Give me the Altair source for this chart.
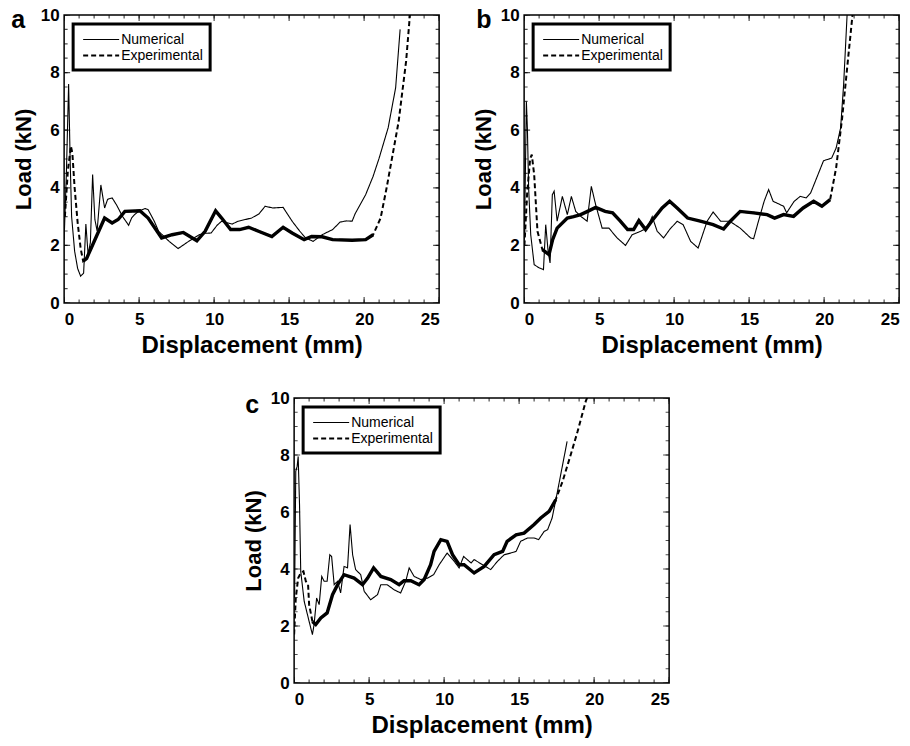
import altair as alt
import pandas as pd

FONT = "Liberation Sans"

# ---------------- data ----------------
# panel a
a_num_x = [0.0, 0.15, 0.3, 0.4, 0.5, 0.7, 0.9, 1.1, 1.3, 1.45, 1.6, 1.75, 1.9, 2.05, 2.2, 2.45, 2.7, 2.9, 3.2, 3.5, 3.9, 4.3, 4.5, 4.7, 5.0, 5.4, 5.6, 6.0, 6.3, 7.0, 7.6, 8.3, 9.0, 9.4, 9.8, 10.2, 10.5, 11.2, 11.6, 12.5, 13.0, 13.4, 13.9, 14.6, 15.2, 15.7, 16.1, 16.6, 17.2, 17.9, 18.4, 18.8, 19.2, 19.4, 20.1, 20.6, 21.0, 21.6, 22.1, 22.4]
a_num_y = [2.2, 4.5, 7.6, 5.0, 3.0, 1.8, 1.2, 0.93, 1.04, 2.74, 1.68, 2.1, 4.46, 2.9, 2.5, 4.1, 3.3, 3.6, 3.65, 3.4, 3.0, 2.7, 2.95, 3.07, 3.2, 3.28, 3.24, 2.85, 2.49, 2.14, 1.89, 2.14, 2.37, 2.42, 2.43, 2.7, 2.84, 2.74, 2.84, 2.95, 3.1, 3.36, 3.3, 3.32, 2.84, 2.5, 2.26, 2.14, 2.37, 2.55, 2.81, 2.85, 2.84, 3.1, 3.76, 4.4, 5.03, 6.08, 7.47, 9.5]
a_exp_x = [0.05, 0.25, 0.45, 0.55, 0.7, 0.9, 1.1, 1.27, 1.5, 1.8, 2.2, 2.7, 3.2, 3.6, 4.05, 5.05, 5.6, 6.5, 7.2, 7.95, 8.85, 9.4, 10.1, 10.5, 11.1, 11.7, 12.3, 12.96, 13.85, 14.6, 15.2, 16.0, 16.5, 17.2, 17.9, 19.2, 20.1, 20.6, 21.1, 21.5, 21.9, 22.3, 22.8, 23.1]
a_exp_y = [3.0, 4.6, 5.45, 5.2, 4.0, 2.8, 1.9, 1.45, 1.55, 1.9, 2.37, 2.95, 2.78, 2.9, 3.18, 3.2, 2.95, 2.26, 2.37, 2.45, 2.16, 2.49, 3.2, 2.95, 2.55, 2.55, 2.63, 2.49, 2.31, 2.63, 2.43, 2.2, 2.31, 2.3, 2.2, 2.18, 2.2, 2.37, 2.95, 4.0, 5.15, 6.3, 8.4, 10.3]

# panel b
b_num_x = [0.02, 0.15, 0.22, 0.3, 0.44, 0.67, 1.0, 1.29, 1.44, 1.6, 1.73, 1.88, 2.0, 2.2, 2.55, 2.88, 3.15, 3.44, 3.8, 4.2, 4.48, 4.77, 5.2, 5.65, 6.2, 6.76, 7.2, 7.76, 8.2, 8.54, 8.87, 9.3, 9.7, 10.2, 10.6, 11.1, 11.6, 12.2, 12.6, 13.1, 13.7, 14.4, 15.1, 15.3, 15.6, 16.0, 16.3, 16.6, 17.3, 17.5, 18.0, 18.4, 18.8, 19.1, 19.5, 19.96, 20.5, 20.8, 21.1, 21.3, 21.55]
b_num_y = [2.2, 7.0, 6.0, 4.0, 2.37, 1.33, 1.22, 1.16, 2.72, 1.79, 1.39, 3.76, 3.88, 2.84, 3.7, 3.07, 3.7, 3.18, 3.0, 2.84, 4.05, 3.41, 2.6, 2.6, 2.26, 2.0, 2.37, 2.49, 2.6, 3.0, 2.49, 2.26, 2.55, 2.84, 2.72, 2.14, 1.91, 2.84, 3.16, 2.84, 2.84, 2.6, 2.26, 2.23, 2.8, 3.53, 3.94, 3.53, 3.36, 3.13, 3.53, 3.7, 3.65, 3.82, 4.34, 4.94, 5.03, 5.38, 6.08, 7.58, 10.2]
b_exp_x = [0.02, 0.2, 0.4, 0.51, 0.67, 0.89, 1.22, 1.66, 1.9, 2.2, 2.88, 3.3, 3.77, 4.3, 4.77, 5.4, 5.9, 6.4, 6.9, 7.3, 7.65, 8.1, 8.5, 9.2, 9.7, 10.2, 10.9, 11.75, 12.6, 13.3, 13.75, 14.4, 15.3, 16.2, 16.7, 17.3, 17.96, 18.6, 19.3, 19.85, 20.4, 20.8, 21.2, 21.6, 21.95]
b_exp_y = [2.0, 3.8, 5.0, 5.15, 4.46, 2.49, 1.85, 1.68, 2.2, 2.6, 2.95, 3.0, 3.07, 3.2, 3.32, 3.18, 3.13, 2.85, 2.55, 2.55, 2.86, 2.55, 2.84, 3.3, 3.53, 3.3, 2.95, 2.84, 2.72, 2.57, 2.84, 3.18, 3.13, 3.07, 2.95, 3.07, 3.01, 3.3, 3.53, 3.36, 3.59, 4.69, 6.42, 8.5, 10.3]

# panel c
c_num_x = [0.03, 0.11, 0.2, 0.27, 0.36, 0.44, 0.67, 1.0, 1.22, 1.33, 1.5, 1.67, 1.84, 2.0, 2.2, 2.38, 2.5, 2.67, 2.9, 3.1, 3.33, 3.56, 3.73, 3.9, 4.1, 4.44, 4.67, 5.1, 5.56, 5.78, 6.2, 6.67, 7.1, 7.44, 7.67, 8.0, 8.44, 8.9, 9.3, 9.67, 10.2, 10.67, 11.0, 11.3, 11.8, 12.0, 12.56, 13.1, 13.56, 14.0, 14.44, 14.8, 15.1, 15.56, 16.0, 16.3, 16.67, 16.9, 17.2, 17.56, 17.9, 18.2]
c_num_y = [3.0, 7.43, 7.6, 7.95, 6.26, 3.92, 2.87, 2.16, 1.7, 2.05, 2.98, 2.75, 3.74, 3.57, 3.57, 4.5, 4.44, 3.45, 3.57, 3.16, 4.09, 4.04, 5.56, 4.5, 3.98, 3.8, 3.22, 2.92, 3.1, 3.45, 3.45, 3.27, 3.16, 3.57, 4.04, 3.74, 3.63, 3.68, 3.8, 4.15, 4.56, 4.27, 4.04, 4.44, 4.21, 4.33, 4.15, 3.98, 4.27, 4.5, 4.56, 4.62, 4.97, 5.09, 5.09, 5.03, 5.32, 5.38, 5.79, 6.73, 7.66, 8.48]
c_exp_x = [0.0, 0.11, 0.27, 0.44, 0.62, 0.78, 0.93, 1.0, 1.22, 1.44, 1.78, 2.2, 2.56, 2.9, 3.33, 4.0, 4.56, 4.9, 5.3, 5.78, 6.44, 7.0, 7.33, 7.78, 8.33, 8.67, 9.1, 9.33, 9.78, 10.2, 10.56, 11.0, 11.33, 12.0, 12.67, 13.33, 13.9, 14.2, 14.8, 15.33, 16.0, 16.44, 17.0, 17.44, 17.9, 18.44, 18.9, 19.44, 19.6]
c_exp_y = [1.7, 2.98, 3.68, 3.86, 3.92, 3.57, 3.45, 2.75, 2.16, 2.05, 2.28, 2.46, 3.1, 3.45, 3.8, 3.68, 3.45, 3.68, 4.04, 3.74, 3.63, 3.45, 3.59, 3.59, 3.45, 3.63, 4.15, 4.62, 5.03, 4.97, 4.5, 4.15, 4.15, 3.86, 4.09, 4.5, 4.62, 4.97, 5.2, 5.26, 5.56, 5.79, 6.02, 6.43, 7.08, 8.01, 8.83, 9.88, 10.1]

SERIES = ["Numerical", "Experimental"]
X_DOMAIN = [0, 25]
Y_DOMAIN = [0, 10]
X_MAJOR = [0, 5, 10, 15, 20, 25]
X_MINOR = list(range(0, 26))
Y_MAJOR = [0, 2, 4, 6, 8, 10]
Y_MINOR = [i * 0.5 for i in range(21)]
X_TITLE = "Displacement (mm)"
Y_TITLE = "Load (kN)"

MAJOR_LEN = 12   # tick mark length (half is clipped away -> inward ticks)
MINOR_LEN = 7


def make_df(nx, ny, ex, ey):
    rows = []
    for i, (x, y) in enumerate(zip(nx, ny)):
        rows.append({"series": "Numerical", "x": x, "y": y, "i": i})
    for i, (x, y) in enumerate(zip(ex, ey)):
        rows.append({"series": "Experimental", "x": x, "y": y, "i": i})
    return pd.DataFrame(rows)


x_ticks = pd.DataFrame({"v": X_MINOR + X_MAJOR,
                        "len": [MINOR_LEN] * len(X_MINOR) + [MAJOR_LEN] * len(X_MAJOR)})
y_ticks = pd.DataFrame({"v": Y_MINOR + Y_MAJOR,
                        "len": [MINOR_LEN] * len(Y_MINOR) + [MAJOR_LEN] * len(Y_MAJOR)})

MAIN_X = alt.Axis(orient="bottom", values=X_MAJOR, format="d", title=X_TITLE,
                  ticks=False, domain=False, grid=False,
                  labelFont=FONT, labelFontSize=17, labelFontWeight="bold",
                  labelColor="black", labelPadding=8,
                  titleFont=FONT, titleFontSize=24, titleFontWeight="bold",
                  titleColor="black", titlePadding=6)
MAIN_Y = alt.Axis(orient="left", values=Y_MAJOR, format="d", title=Y_TITLE,
                  ticks=False, domain=False, grid=False,
                  labelFont=FONT, labelFontSize=17, labelFontWeight="bold",
                  labelColor="black", labelPadding=5,
                  titleFont=FONT, titleFontSize=22, titleFontWeight="bold",
                  titleColor="black", titlePadding=5)


def panel(df, letter, letter_dx, letter_dy, thick_lo, thick_hi, w, h):
    xs = alt.Scale(domain=X_DOMAIN, nice=False, zero=False)
    ys = alt.Scale(domain=Y_DOMAIN, nice=False, zero=False)

    base = alt.Chart(df)
    legend = alt.Legend(title=None, orient="none", legendX=9, legendY=9,
                        symbolType="M-0.73,0H4.07", symbolSize=225,
                        symbolStrokeColor="black", symbolStrokeWidth=1.6,
                        labelFont=FONT, labelFontSize=14, labelColor="black",
                        labelOffset=24, padding=7, rowPadding=0,
                        strokeColor="black", fillColor="white")
    lines = base.mark_line(clip=True, color="black").encode(
        x=alt.X("x:Q", scale=xs, axis=MAIN_X),
        y=alt.Y("y:Q", scale=ys, axis=MAIN_Y),
        strokeDash=alt.StrokeDash("series:N",
                                  scale=alt.Scale(domain=SERIES, range=[[1, 0], [5, 3]]),
                                  legend=legend),
        strokeWidth=alt.StrokeWidth("series:N",
                                    scale=alt.Scale(domain=SERIES, range=[1.1, 2.0]),
                                    legend=None),
        order="i:Q",
    )
    thick = base.transform_filter(
        (alt.datum.series == "Experimental") & (alt.datum.x >= thick_lo) & (alt.datum.x <= thick_hi)
    ).mark_line(clip=True, color="black", strokeWidth=3.4).encode(
        x=alt.X("x:Q", scale=xs, axis=MAIN_X),
        y=alt.Y("y:Q", scale=ys, axis=MAIN_Y),
        order="i:Q",
    )

    def xtick(ypos):
        return alt.Chart(x_ticks).mark_tick(clip=True, color="black", thickness=1.2,
                                            orient="vertical").encode(
            x=alt.X("v:Q", scale=xs, axis=MAIN_X), y=alt.value(ypos),
            size=alt.Size("len:Q", scale=None))

    def ytick(xpos):
        return alt.Chart(y_ticks).mark_tick(clip=True, color="black", thickness=1.2,
                                            orient="horizontal").encode(
            y=alt.Y("v:Q", scale=ys, axis=MAIN_Y), x=alt.value(xpos),
            size=alt.Size("len:Q", scale=None))

    lab = alt.Chart(pd.DataFrame({"label": [letter]})).mark_text(
        font=FONT, fontSize=25, fontWeight="bold", color="black",
        align="left", baseline="alphabetic").encode(
        text="label:N", x=alt.value(letter_dx), y=alt.value(letter_dy))

    return alt.layer(lines, thick, xtick(h), xtick(0), ytick(0), ytick(w), lab).properties(
        width=w, height=h)


pa = panel(make_df(a_num_x, a_num_y, a_exp_x, a_exp_y), "a", -53, 13, 1.27, 20.6, 375, 288)
pb = panel(make_df(b_num_x, b_num_y, b_exp_x, b_exp_y), "b", -48, 13, 0.95, 20.5, 375, 288)
pc = panel(make_df(c_num_x, c_num_y, c_exp_x, c_exp_y), "c", -49, 15, 1.1, 17.5, 375, 285)

row1 = alt.hconcat(pa, pb, spacing=31).resolve_scale(strokeDash="independent", strokeWidth="independent")
chart = alt.vconcat(row1, pc, spacing=30, center=True).resolve_scale(
    strokeDash="independent", strokeWidth="independent"
).configure_view(stroke="black", strokeWidth=1.5).configure_legend(
    strokeWidth=3
).properties(background="white", padding={"left": 10, "top": 5, "right": 5, "bottom": 5})

chart.save("out.html", embed_options={"renderer": "svg", "actions": False})
